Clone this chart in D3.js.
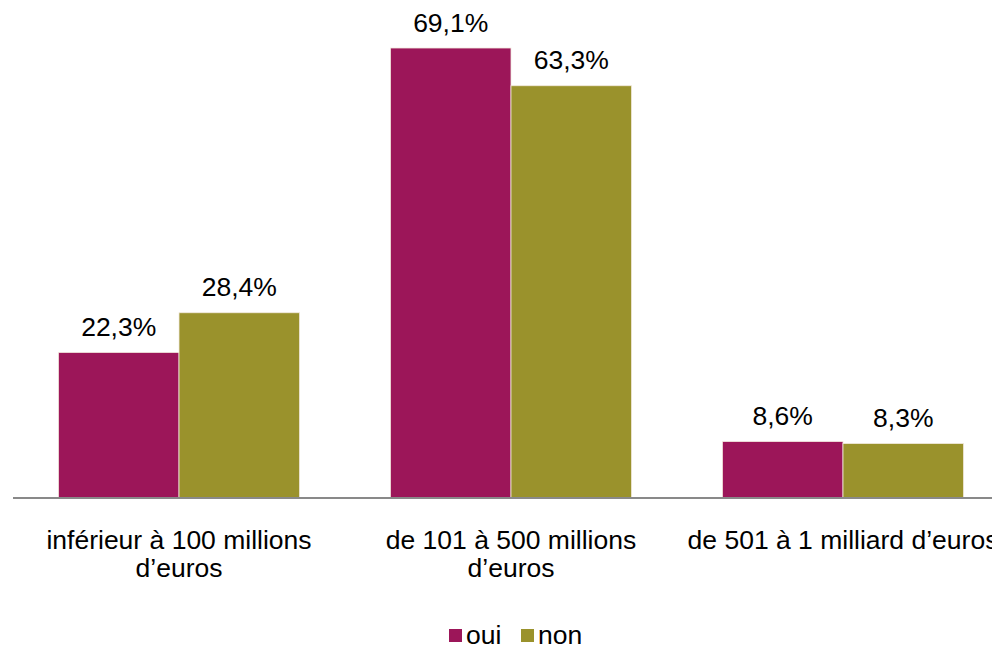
<!DOCTYPE html>
<html><head><meta charset="utf-8">
<script src="https://cdn.jsdelivr.net/npm/d3@7"></script>
<style>body{margin:0;background:#fff;overflow:hidden}svg{display:block;font-family:"Liberation Sans",Arial,sans-serif}</style>
</head><body><svg id="c" width="992" height="649"></svg>
<script>
const categories = [["inférieur à 100 millions","d’euros"],["de 101 à 500 millions","d’euros"],["de 501 à 1 milliard d’euros"]];
const series = ["oui","non"];
const oui = [22.3, 69.1, 8.6];
const non = [28.4, 63.3, 8.3];
const colors = ["#9C1659","#9A922C"];

const svg = d3.select("#c");
const FS = 26.5;
const baseY = 497.5;
const x0 = d3.scaleBand().domain(d3.range(categories.length)).range([13, 1009]).paddingInner(0.2735).paddingOuter(0.1368);
const x1 = d3.scaleBand().domain(series).range([0, x0.bandwidth()]);
const y = d3.scaleLinear().domain([0, 69.1]).range([baseY, 48]);
const vals = [oui, non];

const g = svg.append("g");
categories.forEach((c, i) => {
  series.forEach((s, j) => {
    const v = vals[j][i];
    g.append("rect").attr("x", x0(i) + x1(s)).attr("y", y(v))
      .attr("width", x1.bandwidth()).attr("height", baseY - y(v))
      .attr("fill", colors[j]).attr("stroke", "#f3eadf").attr("stroke-width", 0.8);
    g.append("text").attr("x", x0(i) + x1(s) + x1.bandwidth()/2).attr("y", y(v) - 16.5)
      .attr("text-anchor", "middle").attr("font-size", FS).attr("fill", "#000")
      .text(String(v.toFixed(1)).replace(".", ",") + "%");
  });
});
svg.append("line").attr("x1", 13).attr("x2", 992).attr("y1", baseY + 0.5).attr("y2", baseY + 0.5)
  .attr("stroke", "#898989").attr("stroke-width", 2);

categories.forEach((c, i) => {
  const t = svg.append("text").attr("text-anchor", "middle").attr("font-size", FS).attr("fill", "#000");
  c.forEach((line, k) => {
    t.append("tspan").attr("x", x0(i) + x0.bandwidth()/2).attr("y", 548.5 + k*28.5).text(line);
  });
});

const leg = svg.append("g");
const legX = [449, 521];
series.forEach((s, j) => {
  leg.append("rect").attr("x", legX[j]).attr("y", 629).attr("width", 13).attr("height", 13).attr("fill", colors[j]);
  leg.append("text").attr("x", legX[j] + 17).attr("y", 644).attr("font-size", FS).attr("fill", "#000").text(s);
});
</script></body></html>
